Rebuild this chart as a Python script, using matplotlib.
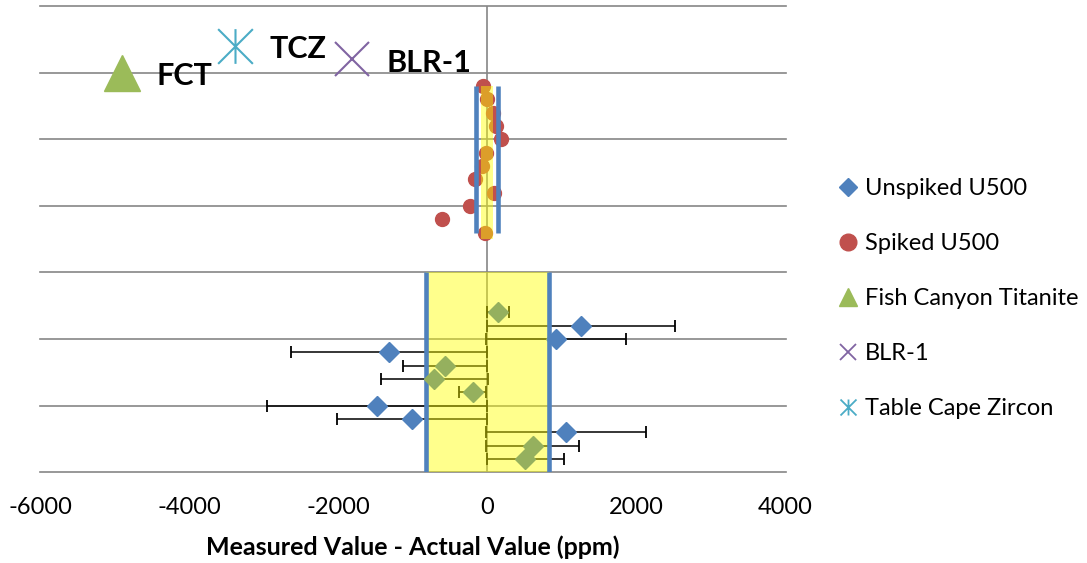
import matplotlib.pyplot as plt
from matplotlib.lines import Line2D
from matplotlib.path import Path

# Values (x = measured - actual, ppm)
unspiked_x = [1255, 920, -1320, -1476, -1015, 1054]
unspiked_y = [2.2, 2.0, 1.8, 1.0, 0.8, 0.6]
unspiked_err = [1259, 939, 1315, 1476, 1006, 1069]

fct_x = [146, -569, -712, -197, 607, 508]
fct_y = [2.4, 1.6, 1.4, 1.2, 0.4, 0.2]
fct_err = [148, 567, 719, 180, 621, 519]

spiked_x = [-63, -5, 79, 119, 178, -23, -76, -170, 93, -229, -609, -32]
spiked_y = [5.8, 5.6, 5.4, 5.2, 5.0, 4.8, 4.6, 4.4, 4.2, 4.0, 3.8, 3.6]

# standards shown in the top left corner
std_names = ['FCT', 'TCZ', 'BLR-1']
std_x = [-4900, -3390, -1820]
std_y = [6.0, 6.4, 6.2]

# bands (ppm)
band_unspiked = [-830, 820]
band_spiked = [-155, 140]
band_spiked_inner = [-90, 75]

xticks = [-6000, -4000, -2000, 0, 2000, 4000]
legend_labels = ['Unspiked U500', 'Spiked U500', 'Fish Canyon Titanite', 'BLR-1', 'Table Cape Zircon']

blue = '#4F81BD'
red = '#C0504D'
green = '#9BBB59'
purple = '#8064A2'
teal = '#4BACC6'
grid = '#868686'

# asterisk marker like the excel one (vertical bar + x)
star = Path([(0, -1), (0, 1), (-1, -1), (1, 1), (-1, 1), (1, -1)],
            [Path.MOVETO, Path.LINETO] * 3)

plt.rcParams['font.family'] = ['Lato', 'DejaVu Sans']
plt.rcParams['axes.unicode_minus'] = False

fig = plt.figure(figsize=(10.87, 5.63), dpi=100)
ax = fig.add_axes([0.0368, 0.1611, 0.686, 0.8282])
ax.set_xlim(-6000, 4000)
ax.set_ylim(0, 7)
for s in ax.spines.values():
    s.set_visible(False)
ax.set_yticks([])
ax.set_xticks(xticks)
ax.tick_params(axis='x', length=0, pad=18, labelsize=17)

for yy in range(8):
    ax.axhline(yy, color=grid, lw=1.2, zorder=1, clip_on=False)
ax.axvline(0, color=grid, lw=1.2, zorder=1)

# error bars under the yellow band
ax.errorbar(unspiked_x, unspiked_y, xerr=unspiked_err, fmt='none', ecolor='black',
            elinewidth=1.1, capsize=4.5, capthick=1.3, zorder=2)
ax.errorbar(fct_x, fct_y, xerr=fct_err, fmt='none', ecolor='black',
            elinewidth=1.1, capsize=4.5, capthick=1.3, zorder=2)

ax.plot(unspiked_x, unspiked_y, 'D', color=blue, ms=10, ls='none', zorder=3)
ax.plot(spiked_x, spiked_y, 'o', color=red, ms=10, ls='none', zorder=3)

# yellow bands
ax.fill_betweenx([0, 3], band_unspiked[0], band_unspiked[1], color='yellow',
                 alpha=0.45, lw=0, zorder=4)
ax.fill_betweenx([3.5, 5.8], band_spiked_inner[0], band_spiked_inner[1], color='yellow',
                 alpha=0.45, lw=0, zorder=4)
ax.vlines(band_unspiked, 0, 3, color=blue, lw=3.3, zorder=5)
ax.vlines(band_spiked, 3.6, 5.8, color=blue, lw=3.3, zorder=5)

ax.plot(fct_x, fct_y, 'D', color='#95B05E', ms=10, ls='none', zorder=6)

# standards
ax.plot(std_x[0], std_y[0], '^', color=green, ms=26, ls='none', zorder=6, clip_on=False)
ax.plot(std_x[1], std_y[1], marker=star, color=teal, ms=25, mew=1.5, ls='none', zorder=6, clip_on=False)
ax.plot(std_x[2], std_y[2], 'x', color=purple, ms=24.5, mew=1.5, ls='none', zorder=6, clip_on=False)
for name, sx, sy in zip(std_names, std_x, std_y):
    ax.annotate(name, (sx, sy), xytext=(25, -9), textcoords='offset points',
                va='baseline', ha='left', fontsize=22, fontweight='bold', zorder=7)

ax.set_xlabel('Measured Value - Actual Value (ppm)', fontsize=18, fontweight='bold', labelpad=12)

handles = [
    Line2D([], [], marker='D', color=blue, ls='none', ms=9),
    Line2D([], [], marker='o', color=red, ls='none', ms=12),
    Line2D([], [], marker='^', color=green, ls='none', ms=13),
    Line2D([], [], marker='x', color=purple, ls='none', ms=11.5, mew=1.3),
    Line2D([], [], marker=star, color=teal, ls='none', ms=11.5, mew=1.3),
]
fig.legend(handles, legend_labels, loc='upper left', bbox_to_anchor=(0.7715, 0.684),
           frameon=False, fontsize=17, borderpad=0, borderaxespad=0,
           handlelength=0.8, handletextpad=0.32, labelspacing=1.44)

fig.savefig('out.png', dpi=100)
